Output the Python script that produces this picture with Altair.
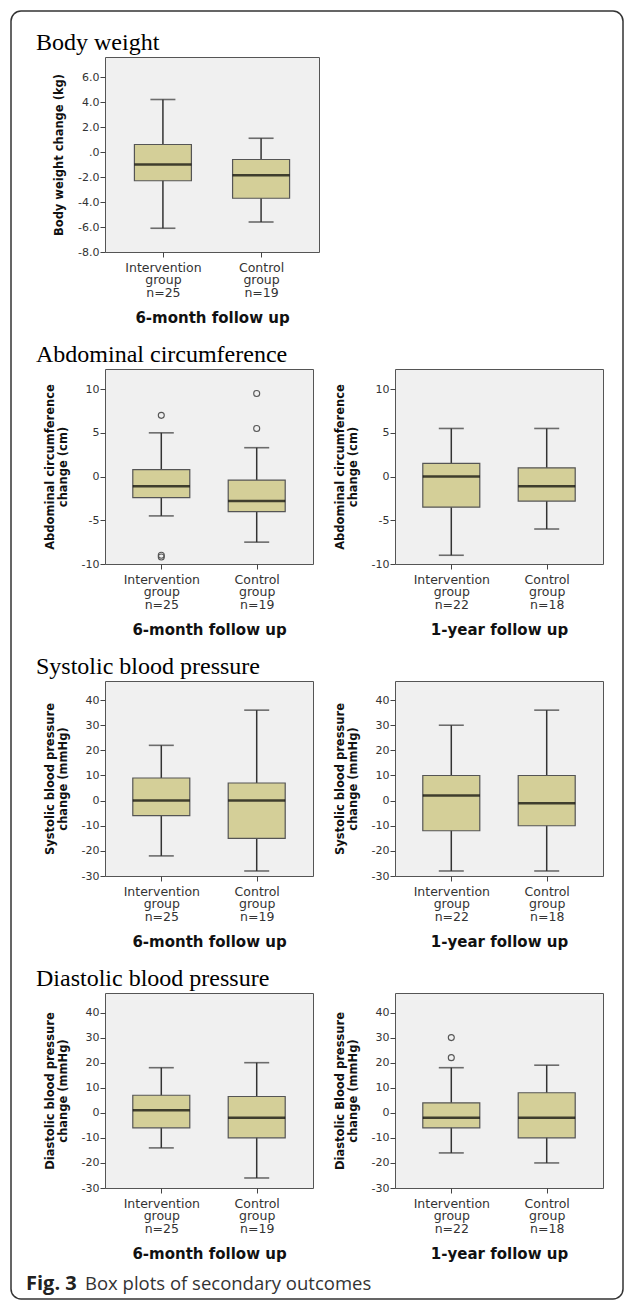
import altair as alt
import pandas as pd

# ---------------- data ----------------
GROUPS_6M = ["Intervention|group|n=25", "Control|group|n=19"]
GROUPS_1Y = ["Intervention|group|n=22", "Control|group|n=18"]

# Body weight change (kg), 6-month
bw6_low = [-6.1, -5.6]
bw6_q1 = [-2.3, -3.7]
bw6_med = [-1.0, -1.85]
bw6_q3 = [0.6, -0.6]
bw6_high = [4.2, 1.1]
bw6_out_g = []
bw6_out_v = []

# Abdominal circumference change (cm), 6-month
ac6_low = [-4.5, -7.5]
ac6_q1 = [-2.4, -4.0]
ac6_med = [-1.1, -2.8]
ac6_q3 = [0.8, -0.4]
ac6_high = [5.0, 3.3]
ac6_out_g = [GROUPS_6M[0], GROUPS_6M[0], GROUPS_6M[0], GROUPS_6M[1], GROUPS_6M[1]]
ac6_out_v = [7.0, -9.0, -9.2, 9.5, 5.5]

# Abdominal circumference change (cm), 1-year
ac1_low = [-9.0, -6.0]
ac1_q1 = [-3.5, -2.8]
ac1_med = [0.0, -1.1]
ac1_q3 = [1.5, 1.0]
ac1_high = [5.5, 5.5]
ac1_out_g = []
ac1_out_v = []

# Systolic blood pressure change (mmHg), 6-month
sb6_low = [-22, -28]
sb6_q1 = [-6, -15]
sb6_med = [0, 0]
sb6_q3 = [9, 7]
sb6_high = [22, 36]
sb6_out_g = []
sb6_out_v = []

# Systolic blood pressure change (mmHg), 1-year
sb1_low = [-28, -28]
sb1_q1 = [-12, -10]
sb1_med = [2, -1]
sb1_q3 = [10, 10]
sb1_high = [30, 36]
sb1_out_g = []
sb1_out_v = []

# Diastolic blood pressure change (mmHg), 6-month
db6_low = [-14, -26]
db6_q1 = [-6, -10]
db6_med = [1, -2]
db6_q3 = [7, 6.5]
db6_high = [18, 20]
db6_out_g = []
db6_out_v = []

# Diastolic blood pressure change (mmHg), 1-year
db1_low = [-16, -20]
db1_q1 = [-6, -10]
db1_med = [-2, -2]
db1_q3 = [4, 8]
db1_high = [18, 19]
db1_out_g = [GROUPS_1Y[0], GROUPS_1Y[0]]
db1_out_v = [30, 22]

BW_TICKS = [-8, -6, -4, -2, 0, 2, 4, 6]
AC_TICKS = [-10, -5, 0, 5, 10]
BP_TICKS = [-30, -20, -10, 0, 10, 20, 30, 40]

# ---------------- styling ----------------
BOX_FILL = "#d4cf98"
PANEL_BG = "#f0f0f0"
FRAME = "#555555"
H = 195
W = 208
W_BW = 214
COL_GAP = 76
BOXW = 57

INT_LABELS = "(datum.value < 0 ? '-' : '') + format(abs(datum.value), 'd')"
BW_LABELS = ("datum.value == 0 ? '.0' : (datum.value < 0 ? '-' : '')"
             " + format(abs(datum.value), '.1f')")


def panel(groups, low, q1, med, q3, high, out_g, out_v, ytitle, xtitle,
          domain, ticks, label_expr=INT_LABELS, width=W, title=None):
    df = pd.DataFrame({"group": groups, "low": low, "q1": q1, "med": med,
                       "q3": q3, "high": high})
    xenc = alt.X(
        "group:N",
        scale=alt.Scale(type="point", padding=0.59, domain=groups),
        title=xtitle,
        axis=alt.Axis(labelExpr="split(datum.label, '|')", labelAngle=0,
                      labelFontSize=12.5, labelLineHeight=12.5, labelPadding=4,
                      tickSize=5, titleFontSize=15, titleFontWeight="bold",
                      titlePadding=12, titleColor="#111"),
    )
    yscale = alt.Scale(domain=domain, nice=False, zero=False)
    yaxis = alt.Axis(values=ticks, labelExpr=label_expr, tickSize=5,
                     labelFontSize=11, labelPadding=1, titleFontSize=11.5,
                     titleFontWeight="bold", titlePadding=13,
                     titleLineHeight=13, titleColor="#111")

    def Y(f):
        return alt.Y(f"{f}:Q", scale=yscale, axis=yaxis, title=ytitle)

    base = alt.Chart(df)
    whisk = base.mark_rule(color="#333", strokeWidth=1.5).encode(
        x=xenc, y=Y("low"), y2="high:Q")
    box = base.mark_bar(size=BOXW, fill=BOX_FILL, stroke=FRAME,
                        strokeWidth=1.2).encode(x=xenc, y=Y("q1"), y2="q3:Q")
    median = base.mark_tick(size=BOXW, thickness=2.5, color="black").encode(
        x=xenc, y=Y("med"))
    caplo = base.mark_tick(size=25, thickness=1.6, color="#333").encode(
        x=xenc, y=Y("low"))
    caphi = base.mark_tick(size=25, thickness=1.6, color="#333").encode(
        x=xenc, y=Y("high"))
    layers = [whisk, box, median, caplo, caphi]
    if out_g:
        odf = pd.DataFrame({"group": out_g, "value": out_v})
        layers.append(
            alt.Chart(odf).mark_point(shape="circle", filled=False, size=36,
                                      color=FRAME, strokeWidth=1.1,
                                      opacity=1).encode(x=xenc, y=Y("value")))
    props = dict(width=width, height=H,
                 view=alt.ViewBackground(fill=PANEL_BG, stroke=FRAME,
                                         strokeWidth=1))
    if title:
        props["title"] = alt.TitleParams(
            title, anchor="start", frame="group", dx=-69, offset=-17,
            baseline="alphabetic", font="Liberation Serif", fontSize=24,
            fontWeight="normal", color="black")
    return alt.layer(*layers).properties(**props)


# figure frame + caption live in the empty top-right cell
# (offsets relative to that cell's origin: column-2 left edge, row-1 plot top)
OX = W_BW + COL_GAP
one = pd.DataFrame({"k": [0]})
frame_rect = alt.Chart(one).mark_rect(
    fillOpacity=0, stroke="#333", strokeWidth=1.5, cornerRadius=10).encode(
    x=alt.value(-94 - OX), x2=alt.value(518 - OX),
    y=alt.value(-46), y2=alt.value(1242))
cap_bold = alt.Chart(one).mark_text(
    text="Fig. 3", font="Open Sans", fontSize=20, fontWeight="bold",
    color="#222", align="left", baseline="alphabetic").encode(
    x=alt.value(-79 - OX), y=alt.value(1233))
cap_text = alt.Chart(one).mark_text(
    text="Box plots of secondary outcomes", font="Open Sans", fontSize=18.5,
    color="#333", align="left", baseline="alphabetic").encode(
    x=alt.value(-20 - OX), y=alt.value(1233))
frame_cell = alt.layer(frame_rect, cap_bold, cap_text).properties(
    width=W, height=H,
    view=alt.ViewBackground(fill="transparent", stroke="transparent"))

bw = panel(GROUPS_6M, bw6_low, bw6_q1, bw6_med, bw6_q3, bw6_high,
           bw6_out_g, bw6_out_v, "Body weight change (kg)",
           "6-month follow up", [-8, 7.6], BW_TICKS, label_expr=BW_LABELS,
           width=W_BW, title="Body weight")

ac6 = panel(GROUPS_6M, ac6_low, ac6_q1, ac6_med, ac6_q3, ac6_high,
            ac6_out_g, ac6_out_v,
            ["Abdominal circumference", "change (cm)"], "6-month follow up",
            [-10, 12.3], AC_TICKS, title="Abdominal circumference")
ac1 = panel(GROUPS_1Y, ac1_low, ac1_q1, ac1_med, ac1_q3, ac1_high,
            ac1_out_g, ac1_out_v,
            ["Abdominal circumference", "change (cm)"], "1-year follow up",
            [-10, 12.3], AC_TICKS)
sb6 = panel(GROUPS_6M, sb6_low, sb6_q1, sb6_med, sb6_q3, sb6_high,
            sb6_out_g, sb6_out_v,
            ["Systolic blood pressure", "change (mmHg)"], "6-month follow up",
            [-30, 47.6], BP_TICKS, title="Systolic blood pressure")
sb1 = panel(GROUPS_1Y, sb1_low, sb1_q1, sb1_med, sb1_q3, sb1_high,
            sb1_out_g, sb1_out_v,
            ["Systolic blood pressure", "change (mmHg)"], "1-year follow up",
            [-30, 47.6], BP_TICKS)
db6 = panel(GROUPS_6M, db6_low, db6_q1, db6_med, db6_q3, db6_high,
            db6_out_g, db6_out_v,
            ["Diastolic blood pressure", "change (mmHg)"], "6-month follow up",
            [-30, 47.8], BP_TICKS, title="Diastolic blood pressure")
db1 = panel(GROUPS_1Y, db1_low, db1_q1, db1_med, db1_q3, db1_high,
            db1_out_g, db1_out_v,
            ["Diastolic Blood pressure", "change (mmHg)"], "1-year follow up",
            [-30, 47.8], BP_TICKS)

chart = alt.concat(
    bw, frame_cell, ac6, ac1, sb6, sb1, db6, db1,
    columns=2, bounds="flush", spacing={"row": 117, "column": COL_GAP},
).properties(
    padding={"left": 9, "top": 9, "right": 4, "bottom": 2},
    background="white",
).configure_axis(
    labelFont="DejaVu Sans", titleFont="DejaVu Sans", labelColor="#333",
    tickColor="#444", domain=False, grid=False,
)

chart.save("out.html", embed_options={"renderer": "svg", "actions": False})
